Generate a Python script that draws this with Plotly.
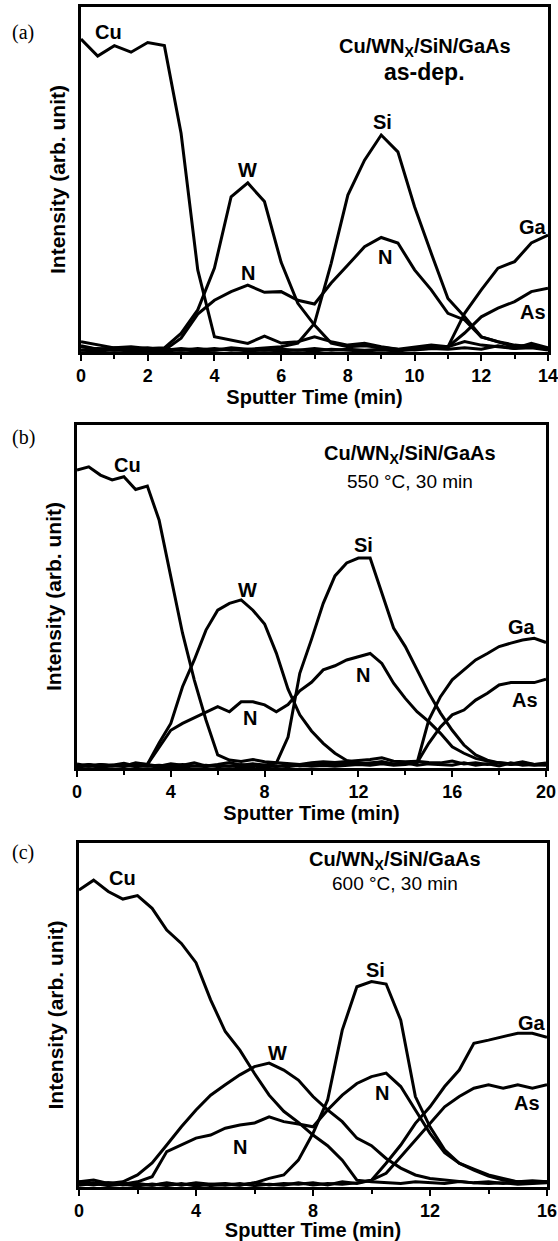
import plotly.graph_objects as go

FIG_W, FIG_H = 558, 1241
SANS = "Liberation Sans, Arial, Helvetica, sans-serif"
SERIF = "Liberation Serif, Times New Roman, serif"

# ---------------- Panel (a): as-deposited ----------------
time_a = [0, 0.5, 1, 1.5, 2, 2.5, 3, 3.5, 4, 4.5, 5, 5.5, 6, 6.5, 7, 7.5, 8, 8.5, 9, 9.5,
          10, 10.5, 11, 11.5, 12, 12.5, 13, 13.5, 14]
cu_a = [90.7, 85.8, 88.8, 86.9, 89.7, 88.8, 63.4, 23.8, 4.4, 3.5, 2.5, 4.6, 2.6, 3.0, 4.4, 3.0, 2.0, 2.5, 1.5, 0.8,
        1.5, 2.0, 1.5, 3.0, 2.0, 1.5, 1.0, 2.5, 1.2]
w_a = [3.0, 2.0, 1.2, 1.5, 1.0, 1.2, 5.4, 12.2, 24.3, 45.0, 49.0, 43.6, 26.0, 14.1, 7.8, 2.6, 1.5, 1.8, 1.2, 0.8,
       0.6, 1.0, 0.8, 1.2, 0.8, 1.8, 1.0, 1.2, 0.6]
n_a = [1.8, 0.8, 1.0, 0.6, 1.0, 0.5, 4.0, 11.0, 15.0, 17.5, 19.4, 17.3, 17.5, 15.0, 13.9, 20.0, 25.2, 30.5, 33.2, 31.6,
       23.8, 18.0, 11.2, 9.3, 4.4, 3.0, 1.5, 2.0, 1.0]
si_a = [0.5, 1.0, 0.5, 0.8, 0.5, 0.8, 0.5, 1.0, 0.5, 1.2, 0.8, 1.2, 1.5, 2.6, 8.3, 25.7, 45.5, 55.6, 62.9, 58.0,
        42.1, 28.6, 15.5, 10.2, 4.4, 3.0, 2.0, 1.5, 0.8]
ga_a = [1.5, 0.8, 1.2, 0.8, 1.2, 0.5, 1.0, 0.6, 1.0, 0.5, 0.8, 0.5, 0.8, 0.5, 1.0, 0.5, 0.8, 0.5, 0.8, 0.5,
        1.0, 1.5, 1.5, 11.2, 18.0, 24.3, 26.2, 31.6, 33.9]
as_a = [0.5, 0.3, 0.6, 0.3, 0.5, 0.3, 0.6, 0.3, 0.5, 0.8, 0.3, 0.6, 0.3, 0.6, 0.3, 0.8, 0.5, 0.3, 0.6, 0.3,
        0.8, 1.0, 1.5, 5.5, 10.2, 12.7, 14.6, 17.5, 18.5]

# ---------------- Panel (b): 550 C, 30 min ----------------
time_b = [0, 0.5, 1, 1.5, 2, 2.5, 3, 3.5, 4, 4.5, 5, 5.5, 6, 6.5, 7, 7.5, 8, 8.5, 9, 9.5,
          10, 10.5, 11, 11.5, 12, 12.5, 13, 13.5, 14, 14.5, 15, 15.5, 16, 16.5, 17, 17.5, 18, 18.5, 19, 19.5, 20]
cu_b = [86.9, 87.8, 85.4, 84.0, 84.9, 81.2, 82.2, 72.3, 55.8, 39.3, 25.7, 14.0, 3.8, 2.3, 1.9, 2.5, 1.8, 1.5, 1.2, 1.0,
        1.5, 1.8, 1.6, 2.0, 2.2, 2.5, 3.0, 2.0, 1.8, 2.0, 1.6, 1.5, 2.0, 1.2, 1.5, 1.0, 1.5, 1.2, 1.8, 1.0, 1.5]
w_b = [0.8, 0.5, 1.0, 0.6, 0.8, 1.2, 1.0, 7.3, 13.0, 23.7, 31.5, 40.2, 46.0, 48.0, 49.0, 46.0, 42.0, 33.5, 23.0, 15.5,
       10.8, 7.2, 4.3, 2.2, 1.5, 1.2, 1.8, 1.0, 1.5, 0.8, 1.2, 1.0, 0.8, 1.5, 0.8, 1.2, 0.6, 1.5, 0.8, 1.0, 0.8]
n_b = [0.5, 1.0, 0.6, 0.8, 0.5, 1.5, 1.0, 6.2, 11.0, 13.0, 14.6, 16.4, 17.9, 16.4, 19.3, 19.3, 18.4, 16.4, 18.5, 22.5,
       25.0, 28.6, 29.8, 31.5, 32.4, 33.4, 30.5, 24.7, 20.3, 16.4, 13.5, 10.1, 6.2, 4.3, 2.8, 2.0, 1.5, 1.2, 1.5, 1.0, 1.2]
si_b = [1.2, 0.6, 1.0, 0.8, 1.4, 0.6, 1.0, 0.5, 1.2, 0.8, 1.5, 0.6, 1.0, 1.6, 0.8, 1.2, 0.9, 1.4, 9.0, 27.6,
        37.5, 48.0, 56.0, 59.8, 61.2, 61.2, 51.0, 40.8, 35.4, 28.6, 21.9, 16.0, 11.0, 6.7, 3.8, 2.3, 1.5, 1.0, 1.2, 0.8, 1.0]
ga_b = [0.6, 1.0, 0.5, 0.8, 0.4, 1.0, 0.6, 0.8, 0.5, 1.0, 0.6, 0.4, 0.8, 0.5, 1.0, 0.6, 0.8, 0.4, 1.0, 0.6,
        0.8, 1.2, 1.0, 1.4, 1.2, 1.6, 1.8, 1.2, 1.4, 1.5, 14.0, 20.8, 25.7, 28.6, 31.5, 33.4, 35.4, 36.4, 37.3, 37.8, 36.6]
as_b = [0.3, 0.6, 0.3, 0.5, 0.8, 0.4, 0.6, 0.3, 0.5, 0.3, 0.6, 0.8, 0.4, 0.6, 0.3, 0.5, 0.3, 0.6, 0.4, 0.8,
        0.5, 0.7, 0.5, 0.8, 1.0, 0.8, 1.2, 0.8, 1.0, 1.5, 7.2, 12.0, 15.5, 16.9, 19.8, 21.8, 24.2, 24.9, 24.9, 24.9, 25.9]

# ---------------- Panel (c): 600 C, 30 min ----------------
time_c = [0, 0.5, 1, 1.5, 2, 2.5, 3, 3.5, 4, 4.5, 5, 5.5, 6, 6.5, 7, 7.5, 8, 8.5, 9, 9.5,
          10, 10.5, 11, 11.5, 12, 12.5, 13, 13.5, 14, 14.5, 15, 15.5, 16]
cu_c = [86.3, 89.2, 85.9, 83.7, 84.7, 81.0, 74.7, 70.8, 65.2, 54.4, 45.2, 39.8, 33.0, 26.7, 22.0, 18.8, 15.1, 12.0, 7.8, 2.0,
        1.5, 1.2, 1.0, 1.5, 1.2, 1.0, 1.6, 1.2, 1.5, 1.0, 1.5, 1.8, 1.5]
w_c = [1.5, 2.0, 1.0, 1.5, 3.5, 7.0, 12.2, 17.5, 22.4, 26.7, 29.7, 32.6, 35.0, 36.0, 34.0, 31.1, 26.3, 22.4, 19.0, 14.2,
       12.0, 8.3, 5.5, 3.5, 2.5, 2.0, 1.5, 1.2, 1.0, 1.2, 0.8, 1.0, 1.2]
n_c = [1.0, 0.6, 1.2, 0.8, 1.5, 3.0, 10.3, 12.2, 14.2, 15.1, 17.1, 18.0, 18.6, 20.4, 19.0, 18.3, 17.5, 22.4, 26.7, 30.1,
       32.1, 33.1, 29.2, 22.4, 15.6, 10.0, 6.9, 5.2, 3.5, 2.5, 1.5, 1.2, 1.5]
si_c = [0.8, 1.2, 0.6, 1.0, 0.8, 0.5, 1.0, 0.6, 1.2, 0.8, 1.0, 0.6, 1.2, 2.5, 3.5, 7.8, 15.6, 25.3, 45.6, 58.2,
        59.7, 59.0, 48.5, 26.3, 17.5, 10.8, 6.9, 4.9, 3.2, 2.0, 1.5, 1.2, 1.5]
ga_c = [1.5, 0.8, 1.2, 0.6, 1.0, 0.5, 1.2, 0.6, 1.0, 0.4, 0.8, 0.5, 1.2, 0.6, 1.0, 0.8, 1.2, 0.6, 1.5, 1.0,
        2.0, 6.9, 12.2, 18.5, 23.3, 29.2, 34.0, 41.8, 42.7, 43.7, 44.7, 44.7, 43.5]
as_c = [0.5, 1.0, 0.4, 0.8, 0.3, 0.9, 0.4, 1.0, 0.3, 0.8, 0.5, 1.0, 0.4, 0.8, 0.5, 1.2, 0.6, 1.0, 0.8, 1.2,
        2.0, 4.0, 8.8, 13.7, 18.5, 23.3, 26.3, 28.7, 29.7, 28.7, 29.7, 28.7, 29.7]

element_names = ["Cu", "W", "N", "Si", "Ga", "As"]

# curve label positions (sputter time, intensity)
labels_a = [("Cu", 0.81, 92.8), ("W", 5.0, 52.8), ("N", 5.0, 22.9), ("Si", 9.05, 66.7),
            ("N", 9.1, 27.5), ("Ga", 13.55, 36.2), ("As", 13.55, 11.6)]
labels_b = [("Cu", 2.17, 88.3), ("W", 7.25, 51.9), ("N", 7.38, 14.6), ("Si", 12.2, 65.0),
            ("N", 12.2, 27.1), ("Ga", 18.98, 41.1), ("As", 19.1, 19.8)]
labels_c = [("Cu", 1.5, 89.8), ("W", 6.77, 39.0), ("N", 5.5, 11.6), ("Si", 10.15, 63.1),
            ("N", 10.36, 27.3), ("Ga", 15.49, 47.7), ("As", 15.3, 24.4)]

panels = [
    dict(tag="(a)", tag_y=33, time=time_a, series=[cu_a, w_a, n_a, si_a, ga_a, as_a], xmax=14, dtick=2, minor=1,
         px=(81, 548), py=(7, 352), labels=labels_a,
         head=("<b>Cu/WN<sub>X</sub>/SiN/GaAs</b>", 10.3, 88.4, 20),
         cond=("<b>as-dep.</b>", 10.3, 81.2, 23)),
    dict(tag="(b)", tag_y=437, time=time_b, series=[cu_b, w_b, n_b, si_b, ga_b, as_b], xmax=20, dtick=4, minor=2,
         px=(77, 546), py=(425, 768), labels=labels_b,
         head=("<b>Cu/WN<sub>X</sub>/SiN/GaAs</b>", 14.2, 91.3, 20),
         cond=("550 °C, 30 min", 14.2, 83.4, 19)),
    dict(tag="(c)", tag_y=852, time=time_c, series=[cu_c, w_c, n_c, si_c, ga_c, as_c], xmax=16, dtick=4, minor=2,
         px=(79, 547), py=(843, 1187), labels=labels_c,
         head=("<b>Cu/WN<sub>X</sub>/SiN/GaAs</b>", 10.8, 95.0, 20),
         cond=("600 °C, 30 min", 10.8, 88.2, 19)),
]

fig = go.Figure()
layout = dict(
    width=FIG_W, height=FIG_H, margin=dict(l=0, r=0, t=0, b=0),
    paper_bgcolor="white", plot_bgcolor="white", showlegend=False,
    font=dict(family=SANS, color="black"),
)
annotations = []

for i, p in enumerate(panels):
    sfx = "" if i == 0 else str(i + 1)
    xa, ya = "x" + sfx, "y" + sfx
    for name, vals in zip(element_names, p["series"]):
        fig.add_trace(go.Scatter(x=p["time"], y=vals, mode="lines", name=name,
                                 line=dict(color="black", width=3),
                                 xaxis=xa, yaxis=ya, hoverinfo="skip"))
    x0, x1 = p["px"]
    y0, y1 = p["py"]
    layout["xaxis" + sfx] = dict(
        domain=[x0 / FIG_W, x1 / FIG_W], anchor=ya, range=[0, p["xmax"]],
        showline=True, linecolor="black", linewidth=2.5, mirror=True,
        showgrid=False, zeroline=False,
        ticks="outside", ticklen=6, tickwidth=2, tickcolor="black",
        tick0=0, dtick=p["dtick"], ticklabeloverflow="allow",
        minor=dict(ticks="outside", ticklen=4, tickwidth=2, tickcolor="black", dtick=p["minor"], tick0=0),
        tickfont=dict(family=SANS, size=18, weight="bold", color="black"),
        title=dict(text="Sputter Time (min)", standoff=4,
                   font=dict(family=SANS, size=20, weight="bold", color="black")),
        automargin=False,
    )
    layout["yaxis" + sfx] = dict(
        domain=[1 - y1 / FIG_H, 1 - y0 / FIG_H], anchor=xa, range=[0, 100],
        showline=True, linecolor="black", linewidth=2.5, mirror=True,
        showgrid=False, zeroline=False, showticklabels=False, ticks="",
        title=dict(text="Intensity (arb. unit)", standoff=7,
                   font=dict(family=SANS, size=21, weight="bold", color="black")),
        automargin=False,
    )
    for txt, xv, yv in p["labels"]:
        annotations.append(dict(x=xv, y=yv, xref=xa, yref=ya, text=txt, showarrow=False,
                                xanchor="center", yanchor="middle",
                                font=dict(family=SANS, size=20, weight="bold", color="black")))
    for txt, xv, yv, sz in (p["head"], p["cond"]):
        annotations.append(dict(x=xv, y=yv, xref=xa, yref=ya, text=txt, showarrow=False,
                                xanchor="center", yanchor="middle",
                                font=dict(family=SANS, size=sz, color="black")))
    annotations.append(dict(x=23 / FIG_W, y=1 - p["tag_y"] / FIG_H, xref="paper", yref="paper",
                            text=p["tag"], showarrow=False, xanchor="center", yanchor="middle",
                            font=dict(family=SERIF, size=20, color="black")))

layout["annotations"] = annotations
fig.update_layout(**layout)
fig.write_html("out.html")
